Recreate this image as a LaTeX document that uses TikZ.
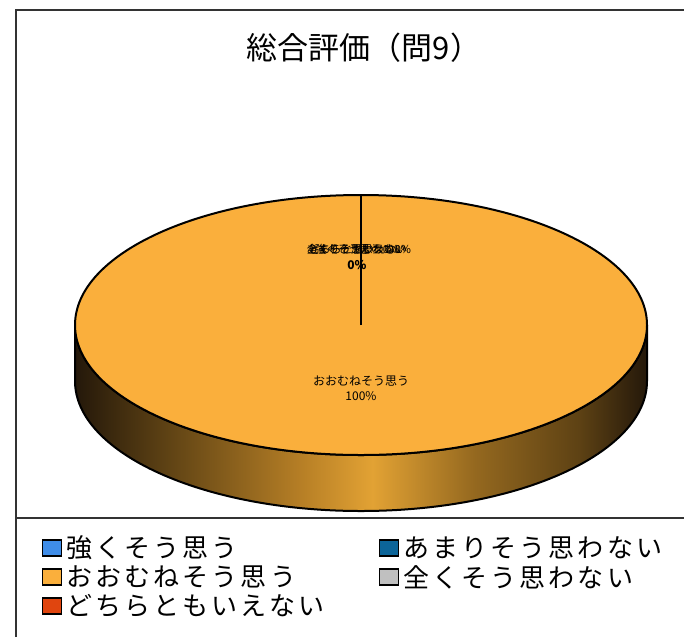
\documentclass[tikz,border=0pt]{standalone}
\usepackage{fontspec}
\setmainfont{Noto Sans CJK JP}
\newfontfamily\legfont[LetterSpace=12]{Noto Sans CJK JP}
\usetikzlibrary{shadings}
\definecolor{pietop}{HTML}{FAAF3C}
\definecolor{sideA}{HTML}{24180A}
\definecolor{sideB}{HTML}{5E4214}
\definecolor{sideC}{HTML}{B88026}
\definecolor{sideD}{HTML}{E2A234}
\definecolor{sideE}{HTML}{94681F}
\definecolor{cBlue}{HTML}{3F8DE8}
\definecolor{cTeal}{HTML}{0C6599}
\definecolor{cGrey}{HTML}{C0C0C0}
\definecolor{cRed}{HTML}{E0450F}
\definecolor{frameC}{HTML}{333333}
\pgfdeclarehorizontalshading{pieside}{100bp}{color(0bp)=(sideA); color(25bp)=(sideA); color(33bp)=(sideB); color(45bp)=(sideC); color(51bp)=(sideD); color(60bp)=(sideE); color(69bp)=(sideB); color(75bp)=(sideA); color(100bp)=(sideA)}
\tikzset{
  legbox/.style={draw=black, line width=1.6pt, minimum width=19pt, minimum height=16pt, inner sep=0pt},
  legtext/.style={anchor=west, inner sep=0pt, font=\legfont\fontsize{26}{26}\selectfont},
  pielabel/.style={inner sep=0pt, font=\fontsize{11}{11}\selectfont},
  framel/.style={draw=frameC, line width=1.5pt}
}
\begin{document}
\begin{tikzpicture}[x=1pt,y=-1pt]
\useasboundingbox (0,0) rectangle (684,637);
\fill[white] (0,0) rectangle (684,637);
% frame
\draw[framel] (16,637) -- (16,10) -- (684,10);
\draw[framel] (16,518) -- (684,518);
% title
\node[inner sep=0pt, font=\fontsize{31}{31}\selectfont] (title) at (364,48) {総合評価（問9）};
% pie
\coordinate (c) at (361,325);
\coordinate (ctop) at (361,195);
\path[shading=pieside, draw=black, line width=2pt]
  (75,325) -- (75,381) arc[start angle=180, end angle=0, x radius=286, y radius=130]
  -- (647,325) arc[start angle=0, end angle=180, x radius=286, y radius=130] -- cycle;
\draw[fill=pietop, draw=black, line width=2pt] (c) ellipse[x radius=286, y radius=130];
\draw[black, line width=2pt] (c) -- (ctop);
% labels
\node[pielabel] (l1) at (357,249) {強くそう思う\,0\%};
\node[pielabel] (l2) at (358,249) {どちらともいえない};
\node[pielabel] (l3) at (356,249) {あまりそう思わない};
\node[pielabel] (l4) at (359,249) {全くそう思わない0\%};
\node[pielabel, font=\fontsize{12}{12}\selectfont\bfseries] (l0) at (357,265) {0\%};
\node[pielabel, font=\fontsize{12}{12}\selectfont] (m1) at (361,381) {おおむねそう思う};
\node[pielabel, font=\fontsize{12}{12}\selectfont] (m2) at (361,396) {100\%};
% legend
\node[legbox, fill=cBlue] (k1) at (52,548) {};
\node[legtext] (t1) at (66,548) {強くそう思う};
\node[legbox, fill=pietop] (k2) at (52,577) {};
\node[legtext] (t2) at (66,577) {おおむねそう思う};
\node[legbox, fill=cRed] (k3) at (52,606) {};
\node[legtext] (t3) at (66,606) {どちらともいえない};
\node[legbox, fill=cTeal] (k4) at (389,548) {};
\node[legtext] (t4) at (403,548) {あまりそう思わない};
\node[legbox, fill=cGrey] (k5) at (389,577) {};
\node[legtext] (t5) at (403,577) {全くそう思わない};
\end{tikzpicture}
\end{document}
